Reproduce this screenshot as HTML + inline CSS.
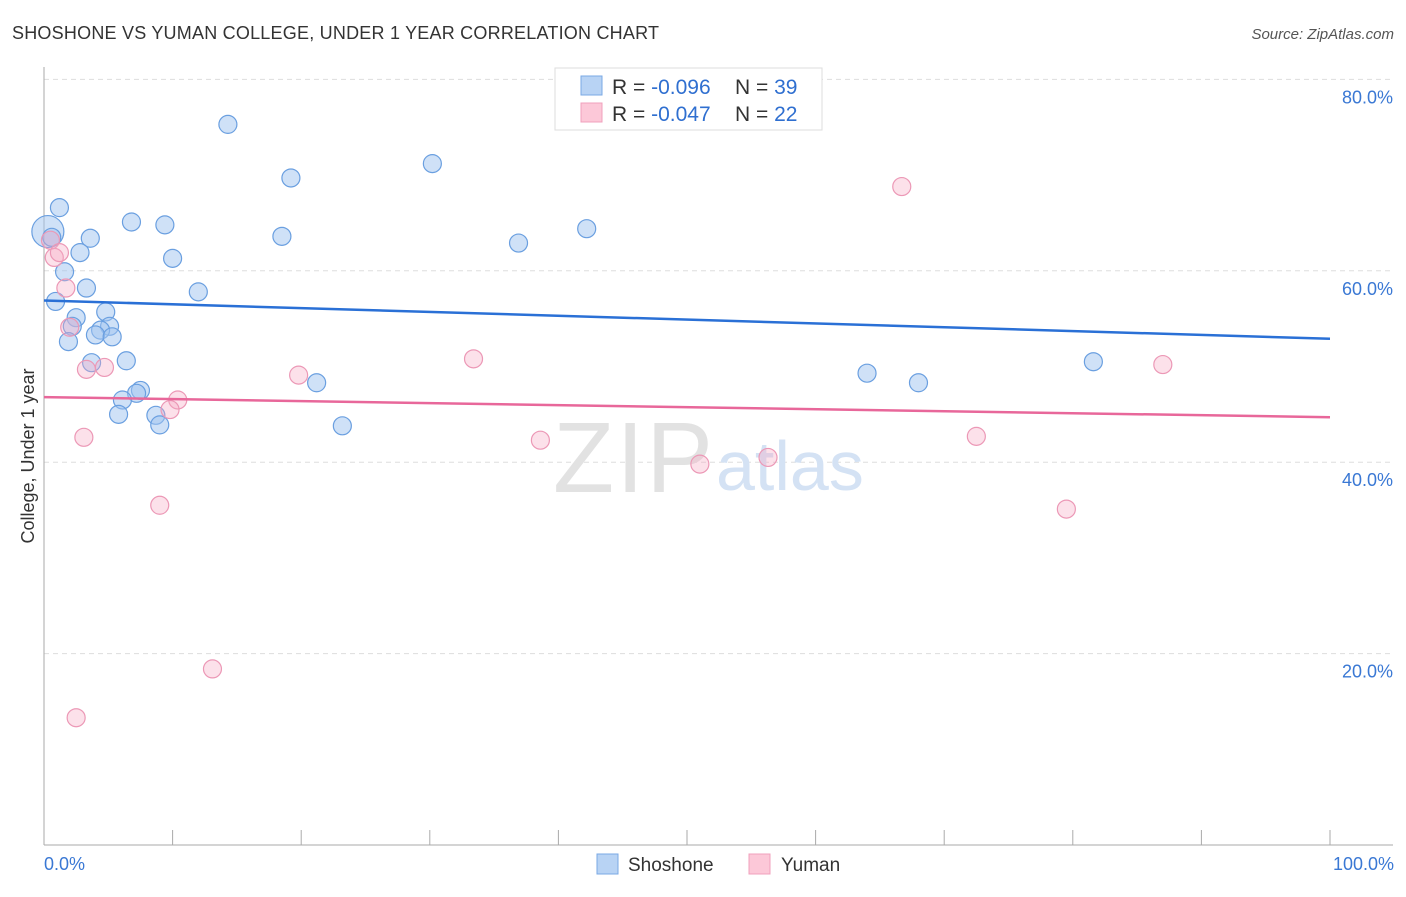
<!DOCTYPE html>
<html><head><meta charset="utf-8"><style>
body{margin:0;background:#fff;font-family:"Liberation Sans",sans-serif;}
svg text{font-family:"Liberation Sans",sans-serif;}
</style></head><body>
<svg id="chart" width="1406" height="892" xmlns="http://www.w3.org/2000/svg">
<text x="12" y="39" font-size="18" fill="#333" textLength="647">SHOSHONE VS YUMAN COLLEGE, UNDER 1 YEAR CORRELATION CHART</text>
<text x="1394" y="39" font-size="15" fill="#555" font-style="italic" text-anchor="end">Source: ZipAtlas.com</text>
<g id="grid"></g>
<text x="553" y="492" font-size="100" fill="#e2e2e2" font-family="Liberation Serif,serif" textLength="160">ZIP</text>
<text x="716" y="490" font-size="70" fill="#d4e2f4">atlas</text>
<text transform="translate(34,456) rotate(-90)" font-size="18" fill="#333" text-anchor="middle">College, Under 1 year</text>
<g id="marks"></g>
<g>
<rect x="555" y="68" width="267" height="62" fill="#fff" stroke="#ddd"/>
<rect x="581" y="76" width="21" height="19" fill="#b8d3f4" stroke="#7aa8e4"/>
<rect x="581" y="103" width="21" height="19" fill="#fcc8d8" stroke="#f0a0bc"/>
<text x="612" y="94" font-size="21" fill="#333">R = <tspan fill="#2f6fd0">-0.096</tspan><tspan x="735">N = </tspan><tspan fill="#2f6fd0">39</tspan></text>
<text x="612" y="121" font-size="21" fill="#333">R = <tspan fill="#2f6fd0">-0.047</tspan><tspan x="735">N = </tspan><tspan fill="#2f6fd0">22</tspan></text>
</g>
<g>
<rect x="597" y="854" width="21" height="20" fill="#b8d3f4" stroke="#7aa8e4"/>
<text x="628" y="871" font-size="19" fill="#333">Shoshone</text>
<rect x="749" y="854" width="21" height="20" fill="#fcc8d8" stroke="#f0a0bc"/>
<text x="781" y="871" font-size="19" fill="#333">Yuman</text>
</g>
<text x="44" y="870" font-size="18" fill="#3a78d4">0.0%</text>
<text x="1394" y="870" font-size="18" fill="#3a78d4" text-anchor="end">100.0%</text>
</svg>
<script>
const yTicks=[20,40,60,80];
const blueX=[0.3,1.2,0.6,3.6,2.8,1.6,3.3,0.9,2.5,2.2,1.9,4.8,5.1,4.4,4.0,5.3,6.4,3.7,7.5,7.2,6.1,5.8,8.7,9.0,6.8,9.4,10.0,12.0,14.3,19.2,18.5,21.2,23.2,30.2,36.9,42.2,64.0,68.0,81.6];
const blueY=[64.1,66.6,63.5,63.4,61.9,59.9,58.2,56.8,55.1,54.2,52.6,55.7,54.2,53.8,53.3,53.1,50.6,50.4,47.5,47.2,46.5,45.0,44.9,43.9,65.1,64.8,61.3,57.8,75.3,69.7,63.6,48.3,43.8,71.2,62.9,64.4,49.3,48.3,50.5];
const pinkX=[0.5,0.8,1.2,1.7,2.0,3.3,4.7,3.1,9.0,10.4,9.8,13.1,2.5,19.8,33.4,38.6,51.0,56.3,66.7,72.5,79.5,87.0];
const pinkY=[63.2,61.4,61.9,58.2,54.1,49.7,49.9,42.6,35.5,46.5,45.5,18.4,13.3,49.1,50.8,42.3,39.8,40.5,68.8,42.7,35.1,50.2];
const blueTrend=[56.9,52.9];
const pinkTrend=[46.8,44.7];
const NS='http://www.w3.org/2000/svg';
const X=v=>44+v*12.86, Y=v=>845-v*9.57;
function mk(t,a,p){const e=document.createElementNS(NS,t);for(const k in a)e.setAttribute(k,a[k]);p.appendChild(e);return e;}
const grid=document.getElementById('grid'), marks=document.getElementById('marks');
yTicks.forEach(t=>{
 const l=mk('line',{x1:44,x2:1393,y1:Y(t),y2:Y(t),stroke:'#ddd','stroke-dasharray':'5,4'},grid);
 
 
 const tx=mk('text',{x:1393,y:Y(t)+24,'font-size':18,fill:'#3a78d4','text-anchor':'end'},grid);
 tx.textContent=t.toFixed(1)+'%';
 
 
});
const ax=mk('line',{x1:44,x2:1393,y1:845,y2:845,stroke:'#aaa'},grid);


const ay=mk('line',{x1:44,x2:44,y1:67,y2:845,stroke:'#aaa'},grid);


for(let i=1;i<=10;i++){
 const tk=mk('line',{x1:X(i*10),x2:X(i*10),y1:830,y2:845,stroke:'#aaa'},grid);
 
 
}
blueX.forEach((x,i)=>{
 const c=mk('circle',{cx:X(x),cy:Y(blueY[i]),r:i==0?16:9,fill:'rgba(160,196,240,0.5)',stroke:'#6a9fe0','stroke-width':1.2},marks);
 
 
});
pinkX.forEach((x,i)=>{
 const c=mk('circle',{cx:X(x),cy:Y(pinkY[i]),r:9,fill:'rgba(245,170,195,0.35)',stroke:'#ec98b6','stroke-width':1.2},marks);
 
 
});
const bl=mk('line',{x1:X(0),x2:X(100),y1:Y(blueTrend[0]),y2:Y(blueTrend[1]),stroke:'#2a70d6','stroke-width':2.5},marks);


const pl=mk('line',{x1:X(0),x2:X(100),y1:Y(pinkTrend[0]),y2:Y(pinkTrend[1]),stroke:'#e8679a','stroke-width':2.5},marks);


</script>
</body></html>
